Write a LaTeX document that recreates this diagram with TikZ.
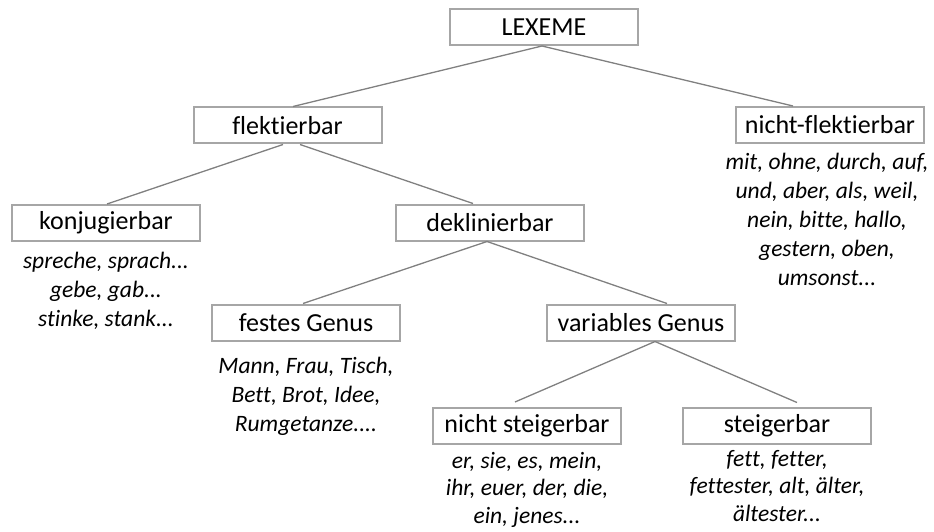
\documentclass[tikz,border=0pt]{standalone}
\usepackage{fontspec}
\setmainfont{Carlito}[Ligatures={NoCommon}]
\definecolor{boxgray}{HTML}{A6A6A6}
\definecolor{linegray}{HTML}{808080}
\begin{document}
\begin{tikzpicture}[x=1pt,y=-1pt,
  box/.style={draw=boxgray, line width=2pt, minimum width=188pt, minimum height=36pt,
    inner sep=0pt, font=\fontsize{26}{31}\selectfont},
  conn/.style={draw=linegray, line width=1.3pt},
  ex/.style={anchor=north, inner sep=0pt, align=center,
    font=\fontsize{23.5}{29}\selectfont\itshape},
  exb/.style={ex, font=\fontsize{23.5}{27.5}\selectfont\itshape}]
\useasboundingbox (0,0) rectangle (934,532);
% boxes
\node[box] (lex)   at (544,27)    {LEXEME};
\node[box] (flek)  at (287.5,125.5) {flektierbar};
\node[box] (nflek) at (830,125)   {nicht-flektierbar};
\node[box] (konj)  at (106,223)   {konjugierbar};
\node[box] (dekl)  at (490,222.5) {deklinierbar};
\node[box] (fest)  at (306,322.5) {festes Genus};
\node[box] (var)   at (641,322.5) {variables Genus};
\node[box] (nst)   at (527,426)   {nicht steigerbar};
\node[box] (st)    at (777,425.5) {steigerbar};
% examples
\node[ex] (konjex)  at (106,247.7) {\strut spreche, sprach...\\gebe, gab...\\stinke, stank...};
\node[ex] (nflekex) at (827,148.7) {\strut mit, ohne, durch, auf,\\und, aber, als, weil,\\nein, bitte, hallo,\\gestern, oben,\\umsonst...};
\node[ex] (festex)  at (306,352.7) {\strut Mann, Frau, Tisch,\\Bett, Brot, Idee,\\Rumgetanze....};
\node[exb] (nstex)  at (527,448.75) {\strut er, sie, es, mein,\\ihr, euer, der, die,\\ein, jenes...};
\node[exb] (stex)   at (777,446.75) {\strut fett, fetter,\\fettester, alt, älter,\\ältester...};
% connectors
\draw[conn] ([xshift=-2pt]lex.south) -- ([xshift=5.5pt]flek.north);
\draw[conn] ([xshift=-2pt]lex.south) -- ([xshift=-37pt]nflek.north);
\draw[conn] ([xshift=-4.5pt]flek.south) -- ([xshift=1pt]konj.north);
\draw[conn] ([xshift=12.5pt]flek.south) -- ([xshift=-17pt]dekl.north);
\draw[conn] ([xshift=-3pt]dekl.south) -- ([xshift=-3pt]fest.north);
\draw[conn] ([xshift=-3pt]dekl.south) -- ([xshift=26pt]var.north);
\draw[conn] ([xshift=14pt]var.south) -- ([xshift=-12pt,yshift=5pt]nst.north);
\draw[conn] ([xshift=14pt]var.south) -- ([xshift=20pt,yshift=4pt]st.north);
\end{tikzpicture}
\end{document}
